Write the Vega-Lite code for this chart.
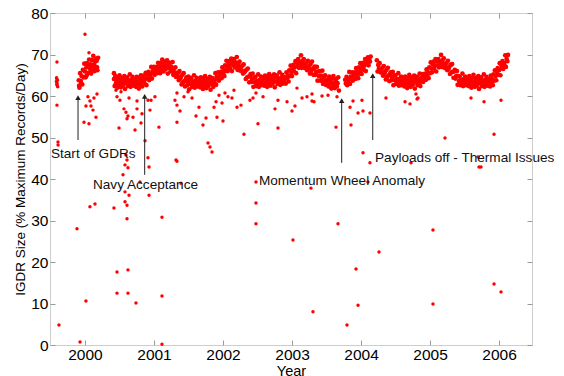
{
"$schema": "https://vega.github.io/schema/vega-lite/v6.json",
"width": 482, "height": 332,
"autosize": "none",
"padding": {"left": 50, "top": 13, "right": 32, "bottom": 31},
"background": "white",
"config": {"font": "Liberation Sans", "view": {"stroke": "#9a9a9a", "strokeDash": [1, 1]},
  "axis": {"domain": false, "grid": false, "tickColor": "#9a9a9a", "tickSize": -5, "labelPadding": 7, "labelFontSize": 15.5, "labelColor": "#000", "titleColor": "#000", "titleFontWeight": "normal"}},
"datasets": {
"out": [
{"t":1999.594,"v":68.2},{"t":1999.594,"v":57.8},{"t":1999.609,"v":48.9},{"t":1999.61,"v":48.2},{"t":1999.623,"v":4.8},
{"t":1999.585,"v":63.5},{"t":1999.59,"v":62.8},{"t":1999.592,"v":64.1},{"t":1999.597,"v":63.0},{"t":1999.6,"v":62.4},{"t":1999.603,"v":63.8},{"t":1999.606,"v":62.2},{"t":1999.588,"v":64.4},
{"t":2000.0,"v":74.9},{"t":2000.058,"v":70.4},{"t":2000.014,"v":57.6},{"t":2000.072,"v":58.8},{"t":2000.087,"v":57.6},{"t":2000.116,"v":56.6},{"t":2000.174,"v":60.5},{"t":2000.159,"v":54.9},{"t":1999.986,"v":53.7},{"t":2000.058,"v":53.3},{"t":2000.13,"v":59.5},{"t":2000.043,"v":59.8},{"t":1999.884,"v":28.0},{"t":1999.928,"v":0.7},{"t":2000.014,"v":10.6},{"t":2000.072,"v":33.3},{"t":2000.145,"v":34.0},
{"t":2000.464,"v":59.8},{"t":2000.522,"v":61.0},{"t":2000.493,"v":52.3},{"t":2000.565,"v":56.9},{"t":2000.594,"v":56.1},{"t":2000.609,"v":54.5},{"t":2000.623,"v":55.2},{"t":2000.696,"v":54.9},{"t":2000.725,"v":51.8},{"t":2000.754,"v":56.9},{"t":2000.812,"v":53.5},{"t":2000.826,"v":55.7},{"t":2000.942,"v":56.6},{"t":2000.957,"v":59.0},{"t":2001.072,"v":52.5},
{"t":2000.594,"v":45.8},{"t":2000.609,"v":44.6},{"t":2000.58,"v":43.4},{"t":2000.623,"v":42.7},{"t":2000.551,"v":41.0},{"t":2000.913,"v":45.1},{"t":2000.928,"v":42.9},{"t":2000.87,"v":49.2},{"t":2000.58,"v":36.9},{"t":2000.609,"v":33.7},{"t":2000.58,"v":34.5},{"t":2000.638,"v":36.1},{"t":2000.42,"v":33.0},{"t":2000.609,"v":30.4},{"t":2000.797,"v":39.3},{"t":2000.928,"v":36.1},{"t":2001.116,"v":30.8},
{"t":2000.464,"v":17.6},{"t":2000.623,"v":18.1},{"t":2000.464,"v":12.5},{"t":2000.623,"v":12.5},{"t":2000.739,"v":10.1},{"t":2001.116,"v":11.8},{"t":2001.116,"v":0.2},{"t":2001.391,"v":39.0},{"t":2001.319,"v":44.6},
{"t":2000.449,"v":61.4},{"t":2000.507,"v":59.0},{"t":2000.638,"v":59.5},{"t":2000.754,"v":58.8},{"t":2000.913,"v":59.0},{"t":2001.014,"v":59.8},{"t":2001.304,"v":59.0},
{"t":2001.333,"v":60.7},{"t":2001.333,"v":57.8},{"t":2001.377,"v":56.4},{"t":2001.333,"v":53.7},{"t":2001.333,"v":44.3},{"t":2001.435,"v":59.8},{"t":2001.493,"v":61.0},{"t":2001.551,"v":59.5},{"t":2001.609,"v":55.2},{"t":2001.652,"v":57.3},{"t":2001.71,"v":53.0},{"t":2001.754,"v":54.7},{"t":2001.783,"v":48.7},{"t":2001.812,"v":47.7},{"t":2001.841,"v":46.5},{"t":2001.87,"v":57.3},{"t":2001.899,"v":58.6},{"t":2001.913,"v":54.9},{"t":2001.942,"v":60.2},{"t":2001.986,"v":58.3},{"t":2002.0,"v":54.0},{"t":2002.029,"v":60.7},{"t":2002.072,"v":59.8},{"t":2002.13,"v":59.5},{"t":2002.159,"v":61.4},{"t":2002.203,"v":57.3},{"t":2002.261,"v":57.8},{"t":2002.304,"v":50.8},{"t":2002.391,"v":59.0},{"t":2002.435,"v":59.5},{"t":2002.478,"v":60.7},{"t":2002.507,"v":53.3},{"t":2002.478,"v":39.3},{"t":2002.478,"v":34.2},{"t":2002.478,"v":29.2},
{"t":2002.58,"v":59.8},{"t":2002.754,"v":56.9},{"t":2002.797,"v":59.0},{"t":2002.797,"v":52.3},{"t":2002.928,"v":58.6},{"t":2003.0,"v":56.4},{"t":2003.043,"v":57.6},{"t":2003.072,"v":61.9},{"t":2003.145,"v":59.5},{"t":2003.217,"v":59.8},{"t":2003.29,"v":60.5},{"t":2003.29,"v":58.8},{"t":2003.319,"v":58.6},{"t":2003.435,"v":60.0},{"t":2003.522,"v":60.2},{"t":2003.638,"v":52.5},{"t":2003.652,"v":59.8},{"t":2003.014,"v":25.3},{"t":2003.275,"v":37.8},{"t":2003.304,"v":8.0},{"t":2003.667,"v":29.2},
{"t":2003.841,"v":57.3},{"t":2003.855,"v":53.0},{"t":2003.884,"v":58.8},{"t":2003.957,"v":55.9},{"t":2004.014,"v":59.0},{"t":2004.029,"v":56.4},{"t":2004.13,"v":55.9},{"t":2004.029,"v":46.3},{"t":2004.13,"v":43.9},{"t":2004.101,"v":39.3},{"t":2003.928,"v":18.3},{"t":2003.957,"v":9.6},{"t":2003.797,"v":4.8},{"t":2004.261,"v":22.4},
{"t":2004.362,"v":59.5},{"t":2004.638,"v":58.6},{"t":2004.71,"v":58.1},{"t":2004.797,"v":60.5},{"t":2004.812,"v":59.3},{"t":2004.826,"v":59.5},{"t":2004.725,"v":43.9},{"t":2005.217,"v":49.9},{"t":2005.043,"v":27.7},{"t":2005.043,"v":9.9},{"t":2005.594,"v":59.5},{"t":2005.783,"v":58.6},{"t":2005.928,"v":50.8},{"t":2005.696,"v":45.3},{"t":2005.71,"v":42.9},{"t":2005.739,"v":42.9},{"t":2006.029,"v":59.0},{"t":2005.928,"v":14.7},{"t":2006.029,"v":12.8}
],
"band": [
{"t":1999.91,"v":63.8},{"t":1999.92,"v":62.0},{"t":1999.93,"v":65.5},{"t":1999.94,"v":63.6},{"t":1999.95,"v":64.8},{"t":1999.96,"v":62.8},{"t":1999.97,"v":66.3},{"t":1999.98,"v":64.5},{"t":1999.99,"v":67.8},{"t":2000.0,"v":65.9},{"t":2000.01,"v":64.5},{"t":2000.02,"v":66.9},{"t":2000.03,"v":67.9},{"t":2000.04,"v":67.6},{"t":2000.05,"v":65.6},{"t":2000.06,"v":68.8},{"t":2000.07,"v":66.7},{"t":2000.08,"v":67.6},{"t":2000.09,"v":65.4},{"t":2000.1,"v":68.7},{"t":2000.11,"v":66.7},{"t":2000.12,"v":69.7},{"t":2000.13,"v":67.6},{"t":2000.14,"v":66.0},{"t":2000.15,"v":68.3},{"t":2000.16,"v":69.0},{"t":2000.17,"v":68.5},{"t":2000.18,"v":66.2},{"t":2000.19,"v":69.2},
{"t":1999.915,"v":62.5},{"t":1999.945,"v":62.9},{"t":2000.025,"v":65.0},{"t":2000.085,"v":66.0},{"t":2000.155,"v":67.0},{"t":2000.175,"v":66.9},
{"t":2000.42,"v":65.5},{"t":2000.42,"v":64.1},{"t":2000.43,"v":62.4},{"t":2000.44,"v":64.8},{"t":2000.45,"v":63.1},{"t":2000.46,"v":63.7},{"t":2000.47,"v":62.0},{"t":2000.48,"v":64.3},{"t":2000.49,"v":62.7},{"t":2000.5,"v":65.0},{"t":2000.51,"v":63.3},{"t":2000.52,"v":62.1},{"t":2000.53,"v":63.8},{"t":2000.54,"v":64.4},{"t":2000.55,"v":62.6},{"t":2000.56,"v":63.4},{"t":2000.57,"v":64.8},{"t":2000.58,"v":61.7},{"t":2000.59,"v":64.1},{"t":2000.6,"v":63.1},{"t":2000.61,"v":64.5},{"t":2000.62,"v":62.4},{"t":2000.63,"v":63.7},{"t":2000.64,"v":62.9},{"t":2000.65,"v":65.2},{"t":2000.66,"v":62.2},{"t":2000.67,"v":63.9},{"t":2000.68,"v":63.2},{"t":2000.69,"v":64.6},{"t":2000.7,"v":62.5},{"t":2000.71,"v":63.4},{"t":2000.72,"v":62.7},{"t":2000.73,"v":63.9},{"t":2000.74,"v":62.2},{"t":2000.75,"v":64.6},{"t":2000.76,"v":62.9},{"t":2000.77,"v":63.5},{"t":2000.78,"v":61.8},{"t":2000.79,"v":64.2},{"t":2000.8,"v":62.6},
{"t":2000.81,"v":65.0},{"t":2000.82,"v":63.4},{"t":2000.83,"v":62.3},{"t":2000.84,"v":64.1},{"t":2000.85,"v":64.9},{"t":2000.86,"v":63.2},{"t":2000.87,"v":64.1},{"t":2000.88,"v":65.6},{"t":2000.89,"v":62.6},{"t":2000.9,"v":65.1},{"t":2000.91,"v":64.2},{"t":2000.92,"v":65.8},{"t":2000.93,"v":63.8},{"t":2000.94,"v":65.3},{"t":2000.95,"v":64.6},{"t":2000.96,"v":67.0},{"t":2000.97,"v":64.2},{"t":2000.98,"v":66.0},{"t":2000.99,"v":65.5},{"t":2001.0,"v":67.0},{"t":2001.01,"v":65.1},{"t":2001.02,"v":66.2},{"t":2001.03,"v":65.7},{"t":2001.04,"v":67.0},{"t":2001.05,"v":65.5},{"t":2001.06,"v":68.0},{"t":2001.07,"v":66.5},{"t":2001.08,"v":67.2},{"t":2001.09,"v":65.5},{"t":2001.1,"v":68.0},{"t":2001.11,"v":66.4},{"t":2001.12,"v":68.8},{"t":2001.13,"v":67.1},{"t":2001.14,"v":65.9},{"t":2001.15,"v":67.7},{"t":2001.16,"v":68.3},{"t":2001.17,"v":66.5},
{"t":2001.18,"v":67.2},{"t":2001.19,"v":68.6},{"t":2001.2,"v":65.4},{"t":2001.21,"v":67.8},{"t":2001.22,"v":66.7},{"t":2001.23,"v":68.0},{"t":2001.24,"v":65.9},{"t":2001.25,"v":67.1},{"t":2001.26,"v":66.1},{"t":2001.27,"v":68.2},{"t":2001.28,"v":65.1},{"t":2001.29,"v":66.6},{"t":2001.3,"v":65.7},{"t":2001.31,"v":66.9},{"t":2001.32,"v":64.6},{"t":2001.33,"v":65.5},{"t":2001.34,"v":64.6},{"t":2001.35,"v":65.6},{"t":2001.36,"v":63.8},{"t":2001.37,"v":66.0},{"t":2001.38,"v":64.2},{"t":2001.39,"v":64.6},{"t":2001.4,"v":62.8},{"t":2001.41,"v":65.1},{"t":2001.42,"v":63.3},{"t":2001.43,"v":65.5},{"t":2001.44,"v":63.6},{"t":2001.45,"v":62.3},{"t":2001.46,"v":63.9},{"t":2001.47,"v":64.5},{"t":2001.48,"v":62.6},{"t":2001.49,"v":63.4},{"t":2001.5,"v":64.7},{"t":2001.51,"v":61.6},{"t":2001.52,"v":63.9},
{"t":2001.53,"v":62.9},{"t":2001.54,"v":64.3},{"t":2001.55,"v":62.2},{"t":2001.56,"v":63.5},{"t":2001.57,"v":62.7},{"t":2001.58,"v":65.0},{"t":2001.59,"v":62.0},{"t":2001.6,"v":63.7},{"t":2001.61,"v":63.0},{"t":2001.62,"v":64.4},{"t":2001.63,"v":62.3},{"t":2001.64,"v":63.3},{"t":2001.65,"v":62.6},{"t":2001.66,"v":63.8},{"t":2001.67,"v":62.1},{"t":2001.68,"v":64.5},{"t":2001.69,"v":62.8},{"t":2001.7,"v":63.4},{"t":2001.71,"v":61.7},{"t":2001.72,"v":64.1},{"t":2001.73,"v":62.5},{"t":2001.74,"v":64.8},{"t":2001.75,"v":63.1},{"t":2001.76,"v":61.9},{"t":2001.77,"v":63.6},{"t":2001.78,"v":64.2},{"t":2001.79,"v":62.4},{"t":2001.8,"v":63.2},{"t":2001.81,"v":64.6},{"t":2001.82,"v":61.5},{"t":2001.83,"v":63.9},{"t":2001.84,"v":62.9},{"t":2001.85,"v":64.3},{"t":2001.86,"v":62.2},
{"t":2001.87,"v":63.7},{"t":2001.88,"v":63.1},{"t":2001.89,"v":65.5},{"t":2001.9,"v":62.7},{"t":2001.91,"v":64.6},{"t":2001.92,"v":64.1},{"t":2001.93,"v":65.7},{"t":2001.94,"v":63.7},{"t":2001.95,"v":64.9},{"t":2001.96,"v":64.4},{"t":2001.97,"v":65.8},{"t":2001.98,"v":64.3},{"t":2001.99,"v":66.9},{"t":2002.0,"v":65.4},{"t":2002.01,"v":66.3},{"t":2002.02,"v":64.8},{"t":2002.03,"v":67.4},{"t":2002.04,"v":66.0},{"t":2002.05,"v":68.5},{"t":2002.06,"v":67.0},{"t":2002.07,"v":66.0},{"t":2002.08,"v":67.8},{"t":2002.09,"v":68.4},{"t":2002.1,"v":66.7},{"t":2002.11,"v":67.6},{"t":2002.12,"v":69.0},{"t":2002.13,"v":66.0},{"t":2002.14,"v":68.4},{"t":2002.15,"v":67.5},{"t":2002.16,"v":68.9},{"t":2002.17,"v":66.9},
{"t":2002.18,"v":68.1},{"t":2002.19,"v":67.2},{"t":2002.2,"v":69.4},{"t":2002.21,"v":66.3},{"t":2002.22,"v":67.9},{"t":2002.23,"v":67.0},{"t":2002.24,"v":68.3},{"t":2002.25,"v":66.1},{"t":2002.26,"v":67.0},{"t":2002.27,"v":66.2},{"t":2002.28,"v":67.3},{"t":2002.29,"v":65.4},{"t":2002.3,"v":67.6},{"t":2002.31,"v":65.7},{"t":2002.32,"v":66.0},{"t":2002.33,"v":64.1},{"t":2002.34,"v":66.3},{"t":2002.35,"v":64.5},{"t":2002.36,"v":66.6},{"t":2002.37,"v":64.7},{"t":2002.38,"v":63.3},{"t":2002.39,"v":64.8},{"t":2002.4,"v":65.3},{"t":2002.41,"v":63.4},{"t":2002.42,"v":64.1},{"t":2002.43,"v":65.4},{"t":2002.44,"v":62.2},{"t":2002.45,"v":64.4},{"t":2002.46,"v":63.3},{"t":2002.47,"v":64.6},{"t":2002.48,"v":62.4},{"t":2002.49,"v":63.6},
{"t":2002.5,"v":62.8},{"t":2002.51,"v":65.2},{"t":2002.52,"v":62.2},{"t":2002.53,"v":63.9},{"t":2002.54,"v":63.2},{"t":2002.55,"v":64.7},{"t":2002.56,"v":62.6},{"t":2002.57,"v":63.6},{"t":2002.58,"v":62.9},{"t":2002.59,"v":64.2},{"t":2002.6,"v":62.5},{"t":2002.61,"v":64.9},{"t":2002.62,"v":63.2},{"t":2002.63,"v":63.9},{"t":2002.64,"v":62.2},{"t":2002.65,"v":64.6},{"t":2002.66,"v":63.0},{"t":2002.67,"v":65.3},{"t":2002.68,"v":63.7},{"t":2002.69,"v":62.5},{"t":2002.7,"v":64.2},{"t":2002.71,"v":64.8},{"t":2002.72,"v":63.0},{"t":2002.73,"v":63.8},{"t":2002.74,"v":65.2},{"t":2002.75,"v":62.1},{"t":2002.76,"v":64.5},{"t":2002.77,"v":63.5},{"t":2002.78,"v":65.0},{"t":2002.79,"v":62.9},{"t":2002.8,"v":64.2},{"t":2002.81,"v":63.4},{"t":2002.82,"v":65.7},{"t":2002.83,"v":62.7},{"t":2002.84,"v":64.4},{"t":2002.85,"v":63.7},{"t":2002.86,"v":65.1},{"t":2002.87,"v":63.0},{"t":2002.88,"v":64.0},{"t":2002.89,"v":63.3},{"t":2002.9,"v":64.5},
{"t":2002.91,"v":63.0},{"t":2002.92,"v":65.7},{"t":2002.93,"v":64.2},{"t":2002.94,"v":65.0},{"t":2002.95,"v":63.5},{"t":2002.96,"v":66.2},{"t":2002.97,"v":64.8},{"t":2002.98,"v":67.3},{"t":2002.99,"v":65.8},{"t":2003.0,"v":64.8},{"t":2003.01,"v":66.7},{"t":2003.02,"v":67.5},{"t":2003.03,"v":65.9},{"t":2003.04,"v":66.9},{"t":2003.05,"v":68.4},{"t":2003.06,"v":65.5},{"t":2003.07,"v":68.1},{"t":2003.08,"v":67.3},{"t":2003.09,"v":68.9},{"t":2003.1,"v":66.8},{"t":2003.11,"v":68.2},{"t":2003.12,"v":67.4},{"t":2003.13,"v":69.8},{"t":2003.14,"v":66.8},
{"t":2003.15,"v":68.4},{"t":2003.16,"v":67.6},{"t":2003.17,"v":68.9},{"t":2003.18,"v":66.8},{"t":2003.19,"v":67.7},{"t":2003.2,"v":66.9},{"t":2003.21,"v":68.0},{"t":2003.22,"v":66.2},{"t":2003.23,"v":68.5},{"t":2003.24,"v":66.7},{"t":2003.25,"v":67.2},{"t":2003.26,"v":65.4},{"t":2003.27,"v":67.7},{"t":2003.28,"v":66.0},{"t":2003.29,"v":68.3},{"t":2003.3,"v":66.5},{"t":2003.31,"v":65.1},{"t":2003.32,"v":66.7},{"t":2003.33,"v":67.1},{"t":2003.34,"v":65.1},{"t":2003.35,"v":65.8},{"t":2003.36,"v":67.0},{"t":2003.37,"v":63.7},{"t":2003.38,"v":65.9},{"t":2003.39,"v":64.8},{"t":2003.4,"v":66.0},{"t":2003.41,"v":63.7},{"t":2003.42,"v":64.9},{"t":2003.43,"v":63.9},{"t":2003.44,"v":66.1},{"t":2003.45,"v":62.9},{"t":2003.46,"v":64.5},{"t":2003.47,"v":63.7},{"t":2003.48,"v":65.0},{"t":2003.49,"v":62.7},{"t":2003.5,"v":63.6},{"t":2003.51,"v":62.8},
{"t":2003.52,"v":64.0},{"t":2003.53,"v":62.3},{"t":2003.54,"v":64.7},{"t":2003.55,"v":63.0},{"t":2003.56,"v":63.5},{"t":2003.57,"v":61.8},{"t":2003.58,"v":64.2},{"t":2003.59,"v":62.5},{"t":2003.6,"v":64.8},{"t":2003.61,"v":63.1},{"t":2003.62,"v":61.9},{"t":2003.63,"v":63.6},{"t":2003.64,"v":64.1},{"t":2003.65,"v":62.3},{"t":2003.66,"v":63.1},{"t":2003.67,"v":64.5},{"t":2003.68,"v":61.3},
{"t":2003.77,"v":63.9},{"t":2003.78,"v":63.0},{"t":2003.79,"v":64.6},{"t":2003.8,"v":62.6},{"t":2003.81,"v":64.0},{"t":2003.82,"v":63.3},{"t":2003.83,"v":65.8},{"t":2003.84,"v":62.9},{"t":2003.85,"v":64.7},{"t":2003.86,"v":64.1},{"t":2003.87,"v":65.7},{"t":2003.88,"v":63.7},{"t":2003.89,"v":64.9},{"t":2003.9,"v":64.3},{"t":2003.91,"v":65.7},{"t":2003.92,"v":64.1},{"t":2003.93,"v":66.7},{"t":2003.94,"v":65.1},{"t":2003.95,"v":65.9},{"t":2003.96,"v":64.3},{"t":2003.97,"v":66.9},{"t":2003.98,"v":65.4},{"t":2003.99,"v":67.9},{"t":2004.0,"v":66.3},{"t":2004.01,"v":65.3},{"t":2004.02,"v":67.2},{"t":2004.03,"v":68.0},{"t":2004.04,"v":66.3},{"t":2004.05,"v":67.3},{"t":2004.06,"v":68.9},{"t":2004.07,"v":66.0},{"t":2004.08,"v":68.5},{"t":2004.09,"v":67.7},{"t":2004.1,"v":69.3},{"t":2004.11,"v":67.4},{"t":2004.12,"v":68.9},{"t":2004.13,"v":68.3},{"t":2004.14,"v":69.5},
{"t":2004.23,"v":68.6},{"t":2004.24,"v":65.9},{"t":2004.25,"v":67.5},{"t":2004.26,"v":66.6},{"t":2004.27,"v":67.9},{"t":2004.28,"v":65.7},{"t":2004.29,"v":66.5},{"t":2004.3,"v":65.7},{"t":2004.31,"v":66.8},{"t":2004.32,"v":64.9},{"t":2004.33,"v":67.2},{"t":2004.34,"v":65.4},{"t":2004.35,"v":65.9},{"t":2004.36,"v":64.0},{"t":2004.37,"v":66.3},{"t":2004.38,"v":64.6},{"t":2004.39,"v":66.8},{"t":2004.4,"v":65.0},{"t":2004.41,"v":63.6},{"t":2004.42,"v":65.2},{"t":2004.43,"v":65.7},{"t":2004.44,"v":63.8},{"t":2004.45,"v":64.5},{"t":2004.46,"v":65.8},{"t":2004.47,"v":62.6},{"t":2004.48,"v":64.9},{"t":2004.49,"v":63.8},{"t":2004.5,"v":65.0},{"t":2004.51,"v":62.9},{"t":2004.52,"v":64.1},{"t":2004.53,"v":63.3},{"t":2004.54,"v":65.5},{"t":2004.55,"v":62.5},{"t":2004.56,"v":64.1},{"t":2004.57,"v":63.4},{"t":2004.58,"v":64.7},{"t":2004.59,"v":62.6},{"t":2004.6,"v":63.6},{"t":2004.61,"v":62.8},{"t":2004.62,"v":64.0},{"t":2004.63,"v":62.3},{"t":2004.64,"v":64.7},{"t":2004.65,"v":63.0},{"t":2004.66,"v":63.6},{"t":2004.67,"v":61.9},{"t":2004.68,"v":64.3},{"t":2004.69,"v":62.7},{"t":2004.7,"v":65.1},{"t":2004.71,"v":63.4},{"t":2004.72,"v":62.2},{"t":2004.73,"v":63.9},{"t":2004.74,"v":64.5},{"t":2004.75,"v":62.7},{"t":2004.76,"v":63.5},{"t":2004.77,"v":64.9},{"t":2004.78,"v":61.8},{"t":2004.79,"v":64.2},{"t":2004.8,"v":63.3},{"t":2004.81,"v":64.7},{"t":2004.82,"v":62.6},{"t":2004.83,"v":63.9},{"t":2004.84,"v":63.1},{"t":2004.85,"v":65.4},{"t":2004.86,"v":62.4},
{"t":2004.87,"v":64.3},{"t":2004.88,"v":63.7},{"t":2004.89,"v":65.3},{"t":2004.9,"v":63.4},{"t":2004.91,"v":64.6},{"t":2004.92,"v":64.0},{"t":2004.93,"v":65.4},{"t":2004.94,"v":63.9},{"t":2004.95,"v":66.4},{"t":2004.96,"v":64.9},{"t":2004.97,"v":65.7},{"t":2004.98,"v":64.3},{"t":2004.99,"v":66.9},{"t":2005.0,"v":65.5},{"t":2005.01,"v":68.1},{"t":2005.02,"v":66.6},{"t":2005.03,"v":65.7},{"t":2005.04,"v":67.6},{"t":2005.05,"v":68.3},{"t":2005.06,"v":66.6},{"t":2005.07,"v":67.4},{"t":2005.08,"v":68.9},{"t":2005.09,"v":65.9},{"t":2005.1,"v":68.4},{"t":2005.11,"v":67.4},{"t":2005.12,"v":68.9},{"t":2005.13,"v":66.9},{"t":2005.14,"v":68.3},{"t":2005.15,"v":67.6},{"t":2005.16,"v":69.9},{"t":2005.17,"v":67.0},{"t":2005.18,"v":68.6},{"t":2005.19,"v":67.8},{"t":2005.2,"v":69.1},{"t":2005.21,"v":66.8},{"t":2005.22,"v":67.7},{"t":2005.23,"v":66.9},{"t":2005.24,"v":68.0},{"t":2005.25,"v":66.2},{"t":2005.26,"v":68.5},{"t":2005.27,"v":66.6},{"t":2005.28,"v":67.1},{"t":2005.29,"v":65.3},{"t":2005.3,"v":67.5},{"t":2005.31,"v":65.7},{"t":2005.32,"v":67.7},{"t":2005.33,"v":65.8},{"t":2005.34,"v":64.4},{"t":2005.35,"v":65.9},{"t":2005.36,"v":66.3},{"t":2005.37,"v":64.2},{"t":2005.38,"v":64.8},{"t":2005.39,"v":66.0},{"t":2005.4,"v":62.7},{"t":2005.41,"v":64.8},{"t":2005.42,"v":63.6},
{"t":2005.43,"v":64.7},{"t":2005.44,"v":62.6},{"t":2005.45,"v":63.9},{"t":2005.46,"v":63.1},{"t":2005.47,"v":65.4},{"t":2005.48,"v":62.4},{"t":2005.49,"v":64.1},{"t":2005.5,"v":63.4},{"t":2005.51,"v":64.7},{"t":2005.52,"v":62.6},{"t":2005.53,"v":63.6},{"t":2005.54,"v":62.9},{"t":2005.55,"v":64.1},{"t":2005.56,"v":62.4},{"t":2005.57,"v":64.8},{"t":2005.58,"v":63.1},{"t":2005.59,"v":63.7},{"t":2005.6,"v":62.0},{"t":2005.61,"v":64.4},{"t":2005.62,"v":62.8},{"t":2005.63,"v":65.1},{"t":2005.64,"v":63.4},{"t":2005.65,"v":62.2},{"t":2005.66,"v":63.9},{"t":2005.67,"v":64.4},{"t":2005.68,"v":62.6},{"t":2005.69,"v":63.4},{"t":2005.7,"v":64.8},{"t":2005.71,"v":61.7},{"t":2005.72,"v":64.1},{"t":2005.73,"v":63.1},{"t":2005.74,"v":64.5},{"t":2005.75,"v":62.4},{"t":2005.76,"v":63.7},{"t":2005.77,"v":62.9},{"t":2005.78,"v":65.2},{"t":2005.79,"v":62.2},{"t":2005.8,"v":63.9},{"t":2005.81,"v":63.2},{"t":2005.82,"v":64.6},{"t":2005.83,"v":62.5},{"t":2005.84,"v":63.5},{"t":2005.85,"v":62.8},{"t":2005.86,"v":64.0},{"t":2005.87,"v":62.3},
{"t":2005.88,"v":64.9},{"t":2005.89,"v":63.3},{"t":2005.9,"v":64.1},{"t":2005.91,"v":62.6},{"t":2005.92,"v":65.2},{"t":2005.93,"v":63.7},{"t":2005.94,"v":66.2},{"t":2005.95,"v":64.8},{"t":2005.96,"v":63.8},{"t":2005.97,"v":65.8},{"t":2005.98,"v":66.7},{"t":2005.99,"v":65.1},{"t":2006.0,"v":66.2},{"t":2006.01,"v":67.9},{"t":2006.02,"v":65.0},{"t":2006.03,"v":67.6},{"t":2006.04,"v":66.8},{"t":2006.05,"v":68.4},{"t":2006.06,"v":66.5},{"t":2006.07,"v":67.9},{"t":2006.08,"v":67.3},{"t":2006.09,"v":69.8},{"t":2006.1,"v":67.0},{"t":2006.11,"v":68.9},{"t":2006.12,"v":68.4},{"t":2006.13,"v":69.9}
],
"arrows": [
{"t":1999.899,"y1":49.4,"y2":59.6},
{"t":2000.865,"y1":41.0,"y2":59.9},
{"t":2003.72,"y1":43.9,"y2":58.9},
{"t":2004.17,"y1":49.4,"y2":64.9}
],
"notes": [
{"t":1999.507,"v":45.06,"label":"Start of GDRs"},
{"t":2000.116,"v":37.5,"label":"Navy Acceptance"},
{"t":2002.52,"v":38.55,"label":"Momentum Wheel Anomaly"},
{"t":2004.203,"v":44.2,"label":"Payloads off - Thermal Issues"}
]
},
"layer": [
{"data": {"name": "band"},
 "mark": {"type": "point", "filled": true, "size": 22, "color": "#ff0000", "opacity": 1},
 "encoding": {
  "x": {"field": "t", "type": "quantitative", "scale": {"domain": [1999.493, 2006.478], "nice": false, "zero": false},
        "axis": {"values": [2000, 2001, 2002, 2003, 2004, 2005, 2006], "format": "d", "title": "Year", "titleFontSize": 14.5, "titlePadding": 2}},
  "y": {"field": "v", "type": "quantitative", "scale": {"domain": [0, 80], "nice": false, "zero": false},
        "axis": {"values": [0, 10, 20, 30, 40, 50, 60, 70, 80], "title": "IGDR Size (% Maximum Records/Day)", "titleFontSize": 13.5, "titlePadding": 3}}
 }},
{"data": {"name": "out"},
 "mark": {"type": "point", "filled": true, "size": 12, "color": "#ff0000", "opacity": 1},
 "encoding": {
  "x": {"field": "t", "type": "quantitative", "scale": {"domain": [1999.493, 2006.478], "nice": false, "zero": false}, "axis": null},
  "y": {"field": "v", "type": "quantitative", "scale": {"domain": [0, 80], "nice": false, "zero": false}, "axis": null}
 }},
{"data": {"name": "arrows"},
 "mark": {"type": "rule", "color": "#222", "strokeWidth": 1},
 "encoding": {
  "x": {"field": "t", "type": "quantitative", "scale": {"domain": [1999.493, 2006.478], "nice": false, "zero": false},
        "axis": {"orient": "top", "labels": false, "title": null, "values": [2000, 2001, 2002, 2003, 2004, 2005, 2006]}},
  "y": {"field": "y1", "type": "quantitative", "scale": {"domain": [0, 80], "nice": false, "zero": false},
        "axis": {"orient": "right", "labels": false, "title": null, "values": [0, 10, 20, 30, 40, 50, 60, 70, 80]}},
  "y2": {"field": "y2"}
 }},
{"data": {"name": "arrows"},
 "mark": {"type": "point", "shape": "triangle-up", "filled": true, "size": 30, "color": "#222", "opacity": 1},
 "encoding": {
  "x": {"field": "t", "type": "quantitative", "scale": {"domain": [1999.493, 2006.478], "nice": false, "zero": false}, "axis": null},
  "y": {"field": "y2", "type": "quantitative", "scale": {"domain": [0, 80], "nice": false, "zero": false}, "axis": null}
 }},
{"data": {"name": "notes"},
 "mark": {"type": "text", "align": "left", "baseline": "alphabetic", "fontSize": 13.6, "color": "#111"},
 "encoding": {
  "x": {"field": "t", "type": "quantitative", "scale": {"domain": [1999.493, 2006.478], "nice": false, "zero": false}, "axis": null},
  "y": {"field": "v", "type": "quantitative", "scale": {"domain": [0, 80], "nice": false, "zero": false}, "axis": null},
  "text": {"field": "label"}
 }}
],
"resolve": {"axis": {"x": "independent", "y": "independent"}}
}
